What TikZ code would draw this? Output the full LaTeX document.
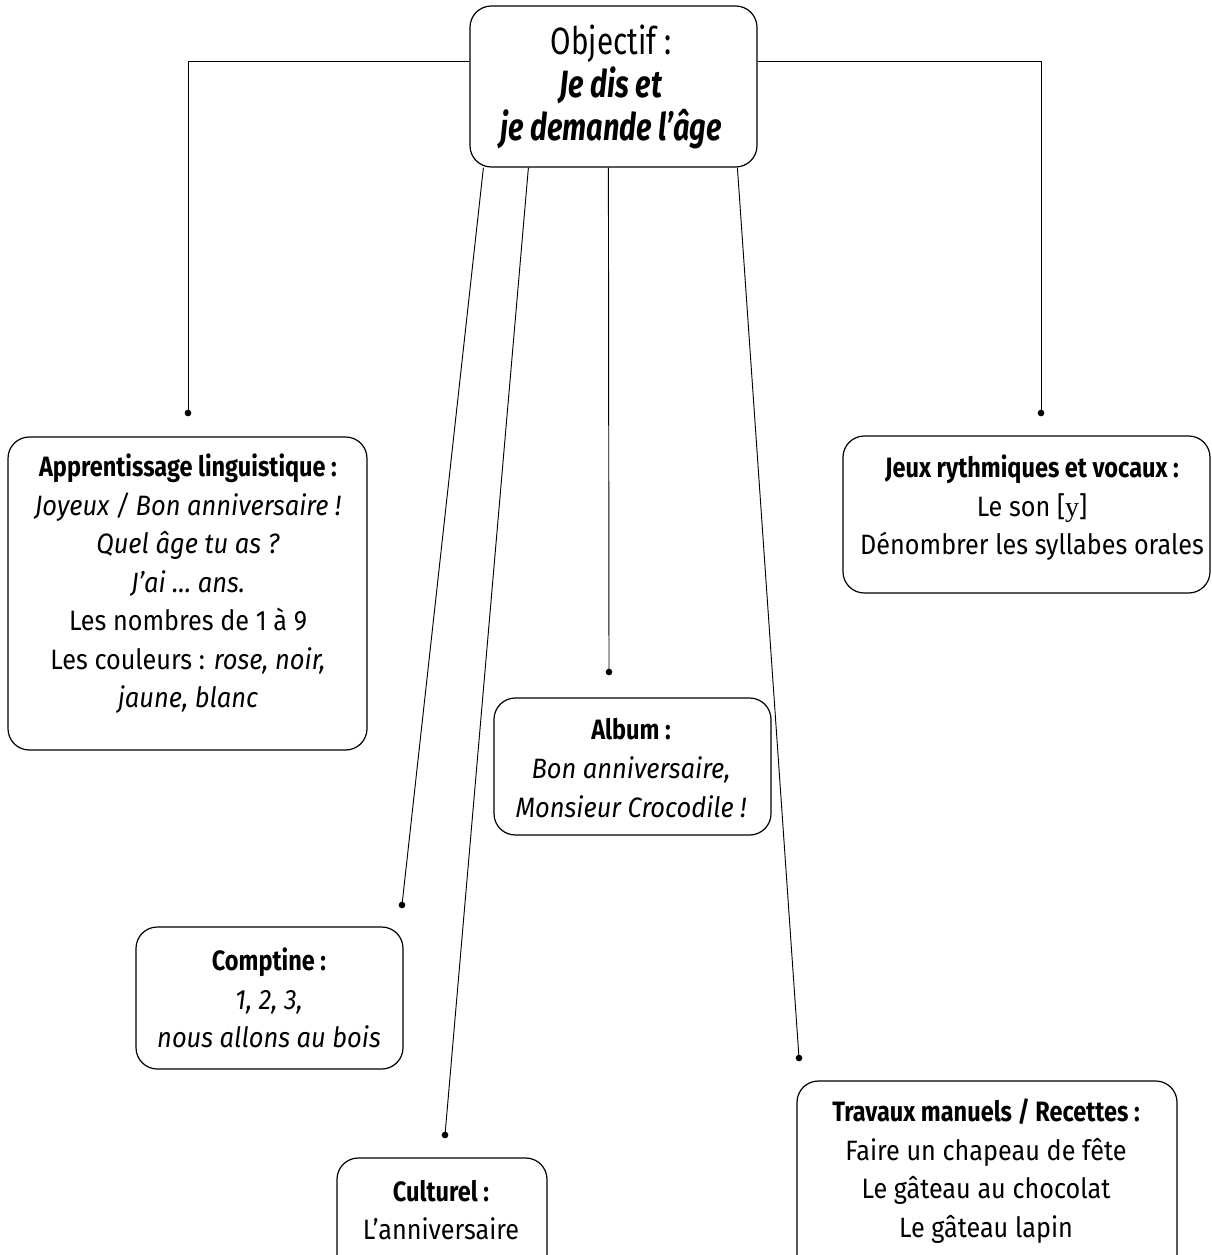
\documentclass[tikz,border=0pt]{standalone}
\usepackage{fontspec}
\setmainfont{Fira Sans}[
  UprightFeatures={FakeStretch=0.9},
  BoldFeatures={FakeStretch=0.84},
  ItalicFeatures={FakeStretch=0.91},
  BoldItalicFeatures={FakeStretch=0.76}]
\newfontfamily\objfont{Fira Sans}[FakeStretch=0.78]
\newfontfamily\ipafont{Liberation Serif}
\usetikzlibrary{fit,calc}
\tikzset{
  box/.style={draw, rounded corners=16pt, line width=0.9pt, inner sep=0pt},
  conn/.style={line width=0.7pt},
  dotnode/.style={circle, fill, inner sep=0pt, minimum size=5pt},
  txt/.style={align=center, inner sep=0pt, font=\fontsize{21}{28.9}\selectfont},
  ttl/.style={align=center, inner sep=0pt, font=\fontsize{28.5}{32}\selectfont},
}
\begin{document}
\begin{tikzpicture}[x=0.75pt,y=-0.75pt]
\clip (0,0) rectangle (1211,1255);
\fill[white] (0,0) rectangle (1211,1255);
% boxes
\node[box, fit={(470,6)(757,167)}] (obj) {};
\node[box, fit={(8,437)(367,750)}] (app) {};
\node[box, fit={(843,436)(1210,593)}] (jeux) {};
\node[box, fit={(494,698)(771,835)}] (album) {};
\node[box, fit={(136,927)(403,1069)}] (comp) {};
\node[box, fit={(337,1158)(547,1290)}] (cult) {};
\node[box, fit={(797,1081)(1177,1290)}] (trav) {};
% texts
\node[ttl] (objt) at (611,87) {{\objfont Objectif :}\\ \textbf{\textit{Je dis et}}\\ \textbf{\textit{je demande l’âge}}};
\node[txt] (appt) at (188,584) {\textbf{Apprentissage linguistique :}\\ \textit{Joyeux / Bon anniversaire !}\\ \textit{Quel âge tu as ?}\\ \textit{J’ai … ans.}\\ Les nombres de 1 à 9\\ Les couleurs : \textit{rose, noir,}\\ \textit{jaune, blanc}};
\node[txt] (jeuxt) at (1032,508) {\textbf{Jeux rythmiques et vocaux :}\\ Le son [{\ipafont y}]\\ Dénombrer les syllabes orales};
\node[txt] (albumt) at (631,768) {\textbf{Album :}\\ \textit{Bon anniversaire,}\\ \textit{Monsieur Crocodile !}};
\node[txt] (compt) at (269,998) {\textbf{Comptine :}\\ \textit{1, 2, 3,}\\ \textit{nous allons au bois}};
\node[txt] (cultt) at (441,1210) {\textbf{Culturel :}\\ L’anniversaire};
\node[txt] (travt) at (986,1171) {\textbf{Travaux manuels / Recettes :}\\ Faire un chapeau de fête\\ Le gâteau au chocolat\\ Le gâteau lapin};
% dots
\node[dotnode] (dapp) at (188,413) {};
\node[dotnode] (djeux) at (1041,413) {};
\node[dotnode] (dcomp) at (402,905) {};
\node[dotnode] (dcult) at (445,1135) {};
\node[dotnode] (dalbum) at (609,672) {};
\node[dotnode] (dtrav) at (799,1058) {};
% connectors
\draw[conn] ($(obj.north west)!0.348!(obj.south west)$) -| (dapp.center);
\draw[conn] ($(obj.north east)!0.348!(obj.south east)$) -| (djeux.center);
\draw[conn] ($(obj.south west)+(14,0)$) -- (dcomp.center);
\draw[conn] ($(obj.south west)+(59,0)$) -- (dcult.center);
\draw[conn] ($(obj.south west)+(139,0)$) -- (dalbum.center);
\draw[conn] ($(obj.south west)+(268,0)$) -- (dtrav.center);
\end{tikzpicture}
\end{document}
